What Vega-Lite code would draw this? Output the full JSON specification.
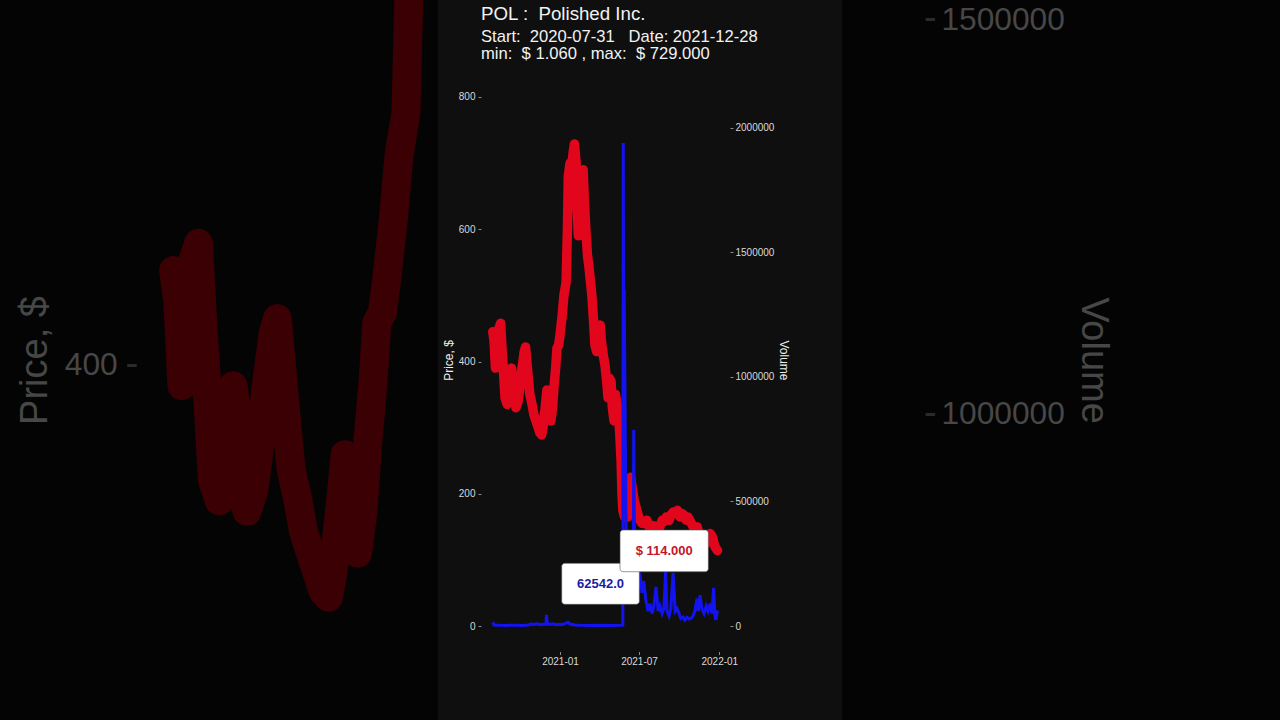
{
  "$schema": "https://vega.github.io/schema/vega-lite/v6.json",
  "background": "#040404",
  "padding": 0,
  "spacing": 0,
  "bounds": "flush",
  "config": {"view": {"stroke": null}, "font": "Liberation Sans"},
  "datasets": {
    "price": [
      {"date": "2020-07-31", "price": 445}, {"date": "2020-08-03", "price": 430}, {"date": "2020-08-06", "price": 390},
      {"date": "2020-08-10", "price": 420}, {"date": "2020-08-14", "price": 450}, {"date": "2020-08-18", "price": 458},
      {"date": "2020-08-21", "price": 420}, {"date": "2020-08-25", "price": 380}, {"date": "2020-08-28", "price": 345},
      {"date": "2020-09-02", "price": 335}, {"date": "2020-09-05", "price": 350}, {"date": "2020-09-08", "price": 370},
      {"date": "2020-09-12", "price": 390}, {"date": "2020-09-15", "price": 375}, {"date": "2020-09-19", "price": 345},
      {"date": "2020-09-22", "price": 330}, {"date": "2020-09-27", "price": 340}, {"date": "2020-10-01", "price": 360},
      {"date": "2020-10-06", "price": 390}, {"date": "2020-10-11", "price": 415}, {"date": "2020-10-14", "price": 422},
      {"date": "2020-10-17", "price": 400}, {"date": "2020-10-21", "price": 370}, {"date": "2020-10-24", "price": 350},
      {"date": "2020-10-29", "price": 335}, {"date": "2020-11-02", "price": 320}, {"date": "2020-11-07", "price": 310},
      {"date": "2020-11-12", "price": 300}, {"date": "2020-11-16", "price": 292}, {"date": "2020-11-20", "price": 289},
      {"date": "2020-11-23", "price": 300}, {"date": "2020-11-28", "price": 330}, {"date": "2020-12-02", "price": 357},
      {"date": "2020-12-05", "price": 345}, {"date": "2020-12-08", "price": 320}, {"date": "2020-12-11", "price": 310},
      {"date": "2020-12-15", "price": 330}, {"date": "2020-12-18", "price": 360}, {"date": "2020-12-22", "price": 390},
      {"date": "2020-12-25", "price": 420}, {"date": "2020-12-29", "price": 425}, {"date": "2021-01-01", "price": 440},
      {"date": "2021-01-06", "price": 470}, {"date": "2021-01-10", "price": 500}, {"date": "2021-01-15", "price": 520},
      {"date": "2021-01-18", "price": 600}, {"date": "2021-01-20", "price": 680}, {"date": "2021-01-24", "price": 700},
      {"date": "2021-01-27", "price": 690}, {"date": "2021-01-31", "price": 715}, {"date": "2021-02-03", "price": 729},
      {"date": "2021-02-07", "price": 700}, {"date": "2021-02-09", "price": 640}, {"date": "2021-02-12", "price": 590},
      {"date": "2021-02-16", "price": 620}, {"date": "2021-02-19", "price": 680}, {"date": "2021-02-23", "price": 690},
      {"date": "2021-02-26", "price": 640}, {"date": "2021-03-02", "price": 590}, {"date": "2021-03-05", "price": 560},
      {"date": "2021-03-08", "price": 545}, {"date": "2021-03-12", "price": 520}, {"date": "2021-03-15", "price": 500},
      {"date": "2021-03-19", "price": 460}, {"date": "2021-03-22", "price": 425}, {"date": "2021-03-26", "price": 415},
      {"date": "2021-03-29", "price": 440}, {"date": "2021-04-03", "price": 455}, {"date": "2021-04-06", "price": 430},
      {"date": "2021-04-10", "price": 410}, {"date": "2021-04-14", "price": 395}, {"date": "2021-04-18", "price": 370},
      {"date": "2021-04-21", "price": 345}, {"date": "2021-04-24", "price": 375}, {"date": "2021-04-28", "price": 370},
      {"date": "2021-05-01", "price": 330}, {"date": "2021-05-05", "price": 310}, {"date": "2021-05-08", "price": 350},
      {"date": "2021-05-12", "price": 335}, {"date": "2021-05-15", "price": 320}, {"date": "2021-05-18", "price": 290},
      {"date": "2021-05-21", "price": 250}, {"date": "2021-05-23", "price": 200}, {"date": "2021-05-25", "price": 175},
      {"date": "2021-05-29", "price": 165}, {"date": "2021-06-01", "price": 175}, {"date": "2021-06-05", "price": 165},
      {"date": "2021-06-08", "price": 195}, {"date": "2021-06-12", "price": 225}, {"date": "2021-06-15", "price": 210},
      {"date": "2021-06-20", "price": 190}, {"date": "2021-06-24", "price": 180}, {"date": "2021-06-29", "price": 168},
      {"date": "2021-07-03", "price": 160}, {"date": "2021-07-08", "price": 155}, {"date": "2021-07-14", "price": 155},
      {"date": "2021-07-19", "price": 160}, {"date": "2021-07-24", "price": 150}, {"date": "2021-07-29", "price": 150},
      {"date": "2021-08-02", "price": 152}, {"date": "2021-08-08", "price": 150}, {"date": "2021-08-14", "price": 148},
      {"date": "2021-08-18", "price": 150}, {"date": "2021-08-23", "price": 160}, {"date": "2021-08-27", "price": 158},
      {"date": "2021-09-02", "price": 165}, {"date": "2021-09-08", "price": 160}, {"date": "2021-09-12", "price": 168},
      {"date": "2021-09-17", "price": 172}, {"date": "2021-09-22", "price": 170}, {"date": "2021-09-27", "price": 175},
      {"date": "2021-10-03", "price": 165}, {"date": "2021-10-08", "price": 170}, {"date": "2021-10-12", "price": 168},
      {"date": "2021-10-17", "price": 160}, {"date": "2021-10-21", "price": 165}, {"date": "2021-10-27", "price": 158},
      {"date": "2021-11-02", "price": 150}, {"date": "2021-11-06", "price": 145}, {"date": "2021-11-11", "price": 150},
      {"date": "2021-11-16", "price": 140}, {"date": "2021-11-21", "price": 135}, {"date": "2021-11-27", "price": 130},
      {"date": "2021-12-02", "price": 125}, {"date": "2021-12-06", "price": 130}, {"date": "2021-12-11", "price": 140},
      {"date": "2021-12-16", "price": 135}, {"date": "2021-12-22", "price": 120}, {"date": "2021-12-28", "price": 114}
    ],
    "volume": [
      {"date": "2020-07-31", "volume": 15000}, {"date": "2020-08-03", "volume": 4000}, {"date": "2020-08-17", "volume": 3000},
      {"date": "2020-09-02", "volume": 2500}, {"date": "2020-09-20", "volume": 3000}, {"date": "2020-10-06", "volume": 2500},
      {"date": "2020-10-20", "volume": 4000}, {"date": "2020-10-27", "volume": 8000}, {"date": "2020-11-02", "volume": 6000},
      {"date": "2020-11-09", "volume": 9000}, {"date": "2020-11-16", "volume": 5000}, {"date": "2020-11-23", "volume": 7000},
      {"date": "2020-11-30", "volume": 8000}, {"date": "2020-12-01", "volume": 45000}, {"date": "2020-12-03", "volume": 8000},
      {"date": "2020-12-09", "volume": 6000}, {"date": "2020-12-16", "volume": 9000}, {"date": "2020-12-23", "volume": 5000},
      {"date": "2021-01-01", "volume": 7000}, {"date": "2021-01-08", "volume": 6000}, {"date": "2021-01-15", "volume": 12000},
      {"date": "2021-01-19", "volume": 15000}, {"date": "2021-01-24", "volume": 8000}, {"date": "2021-02-04", "volume": 4000},
      {"date": "2021-02-16", "volume": 3000}, {"date": "2021-03-11", "volume": 2500}, {"date": "2021-04-03", "volume": 3000},
      {"date": "2021-04-26", "volume": 2500}, {"date": "2021-05-18", "volume": 3000}, {"date": "2021-05-25", "volume": 4000},
      {"date": "2021-05-26", "volume": 1940000}, {"date": "2021-05-27", "volume": 900000}, {"date": "2021-05-28", "volume": 1350000},
      {"date": "2021-06-01", "volume": 470000}, {"date": "2021-06-03", "volume": 250000}, {"date": "2021-06-05", "volume": 180000},
      {"date": "2021-06-08", "volume": 330000}, {"date": "2021-06-11", "volume": 150000}, {"date": "2021-06-15", "volume": 120000},
      {"date": "2021-06-18", "volume": 100000}, {"date": "2021-06-19", "volume": 787000}, {"date": "2021-06-21", "volume": 250000},
      {"date": "2021-06-24", "volume": 180000}, {"date": "2021-06-29", "volume": 150000}, {"date": "2021-07-03", "volume": 213000},
      {"date": "2021-07-08", "volume": 133000}, {"date": "2021-07-12", "volume": 180000}, {"date": "2021-07-17", "volume": 100000},
      {"date": "2021-07-22", "volume": 60000}, {"date": "2021-07-26", "volume": 90000}, {"date": "2021-07-31", "volume": 50000},
      {"date": "2021-08-04", "volume": 80000}, {"date": "2021-08-09", "volume": 157000}, {"date": "2021-08-14", "volume": 60000},
      {"date": "2021-08-18", "volume": 80000}, {"date": "2021-08-23", "volume": 50000}, {"date": "2021-08-27", "volume": 70000},
      {"date": "2021-08-31", "volume": 220000}, {"date": "2021-09-03", "volume": 60000}, {"date": "2021-09-08", "volume": 40000},
      {"date": "2021-09-12", "volume": 70000}, {"date": "2021-09-17", "volume": 213000}, {"date": "2021-09-22", "volume": 60000},
      {"date": "2021-09-26", "volume": 70000}, {"date": "2021-10-01", "volume": 50000}, {"date": "2021-10-05", "volume": 30000},
      {"date": "2021-10-10", "volume": 36000}, {"date": "2021-10-14", "volume": 24000}, {"date": "2021-10-19", "volume": 35000},
      {"date": "2021-10-24", "volume": 28000}, {"date": "2021-10-28", "volume": 30000}, {"date": "2021-11-02", "volume": 40000},
      {"date": "2021-11-06", "volume": 60000}, {"date": "2021-11-11", "volume": 110000}, {"date": "2021-11-14", "volume": 60000},
      {"date": "2021-11-18", "volume": 124000}, {"date": "2021-11-22", "volume": 70000}, {"date": "2021-11-27", "volume": 50000},
      {"date": "2021-12-02", "volume": 80000}, {"date": "2021-12-06", "volume": 60000}, {"date": "2021-12-11", "volume": 90000},
      {"date": "2021-12-15", "volume": 50000}, {"date": "2021-12-19", "volume": 153000}, {"date": "2021-12-22", "volume": 40000},
      {"date": "2021-12-24", "volume": 24000}, {"date": "2021-12-28", "volume": 62542}
    ],
    "vlab": [{"date": "2021-12-28", "value": 62542, "label": "62542.0"}],
    "plab": [{"date": "2021-12-28", "value": 114, "label": "$ 114.000"}]
  },
  "hconcat": [
    {
      "width": 438,
      "height": 720,
      "view": {"fill": "#040404", "stroke": null},
      "data": {"name": "price"},
      "mark": {"type": "line", "color": "#3a0003", "strokeWidth": 29, "strokeCap": "round", "strokeJoin": "round", "clip": true},
      "encoding": {
        "x": {"field": "date", "type": "temporal",
          "scale": {"type": "utc", "domain": [{"year": 2020, "month": 3, "date": 27, "hours": 10, "utc": true}, {"year": 2021, "month": 2, "date": 7, "hours": 5, "utc": true}]},
          "axis": null},
        "y": {"field": "price", "type": "quantitative",
          "scale": {"domain": [230.4, 574.1], "nice": false, "zero": false},
          "axis": {"orient": "left", "offset": -136.2, "values": [400], "format": "d", "domain": false, "grid": false,
            "tickSize": 9.5, "tickColor": "#2a2a2a", "tickWidth": 3, "labelPadding": 9.5, "labelFontSize": 31.7,
            "labelColor": "#474747", "labelFont": "Liberation Sans",
            "title": "Price, $", "titleFontSize": 38, "titleFontWeight": "normal", "titleColor": "#474747",
            "titleFont": "Liberation Sans", "titlePadding": 9.5}}
      }
    },
    {
      "width": 404,
      "height": 720,
      "view": {"fill": "#0f0f0f", "stroke": null},
      "title": {
        "text": "POL :\u00a0\u00a0Polished Inc.",
        "subtitle": ["Start:\u00a0\u00a02020-07-31\u00a0\u00a0\u00a0Date: 2021-12-28", "min:\u00a0\u00a0$ 1.060 , max:\u00a0\u00a0$ 729.000"],
        "orient": "top", "anchor": "start", "frame": "group", "dx": 43, "offset": -62.8,
        "font": "Liberation Sans", "fontSize": 18.7, "fontWeight": "normal", "color": "#f2f2f2",
        "subtitleFont": "Liberation Sans", "subtitleFontSize": 16.6, "subtitleColor": "#f2f2f2",
        "subtitlePadding": 4.7, "subtitleLineHeight": 17.6
      },
      "encoding": {
        "x": {"field": "date", "type": "temporal",
          "scale": {"type": "utc", "domain": [{"year": 2020, "month": 3, "date": 27, "hours": 10, "utc": true}, {"year": 2022, "month": 10, "date": 9, "hours": 5, "utc": true}]},
          "axis": {"orient": "bottom", "offset": -68.5, "title": null, "domain": false, "grid": false,
            "values": [{"year": 2021, "month": 1, "date": 1, "utc": true}, {"year": 2021, "month": 7, "date": 1, "utc": true}, {"year": 2022, "month": 1, "date": 1, "utc": true}],
            "format": "%Y-%m", "tickSize": 3, "tickColor": "#8a8a8a", "labelPadding": 2, "labelFontSize": 10,
            "labelColor": "#d9d9d9", "labelFont": "Liberation Sans", "labelFlush": false}}
      },
      "layer": [
        {
          "data": {"name": "price"},
          "mark": {"type": "line", "color": "#e1061b", "strokeWidth": 9.5, "strokeCap": "round", "strokeJoin": "round"},
          "encoding": {
            "y": {"field": "price", "type": "quantitative",
              "scale": {"domain": [-142.15, 946.69], "nice": false, "zero": false},
              "axis": {"orient": "left", "offset": -43, "values": [0, 200, 400, 600, 800], "format": "d", "domain": false, "grid": false,
                "tickSize": 3, "tickColor": "#8a8a8a", "labelPadding": 3, "labelFontSize": 10, "labelColor": "#d9d9d9",
                "labelFont": "Liberation Sans", "title": "Price, $", "titleFontSize": 12, "titleFontWeight": "normal",
                "titleColor": "#eeeeee", "titleFont": "Liberation Sans", "titlePadding": 3}}
          }
        },
        {
          "data": {"name": "volume"},
          "mark": {"type": "line", "color": "#1313f2", "strokeWidth": 3},
          "encoding": {
            "y": {"field": "volume", "type": "quantitative",
              "scale": {"domain": [-377510, 2514056], "nice": false, "zero": false},
              "axis": {"orient": "right", "offset": -112, "values": [0, 500000, 1000000, 1500000, 2000000], "format": "d", "domain": false, "grid": false,
                "tickSize": 3, "tickColor": "#8a8a8a", "labelPadding": 2, "labelFontSize": 10, "labelColor": "#d9d9d9",
                "labelFont": "Liberation Sans", "title": "Volume", "titleFontSize": 12, "titleFontWeight": "normal",
                "titleColor": "#eeeeee", "titleFont": "Liberation Sans", "titlePadding": 3}}
          }
        },
        {
          "data": {"name": "vlab"},
          "mark": {"type": "rect", "fill": "#ffffff", "stroke": "#555555", "strokeWidth": 0.6, "cornerRadius": 3,
            "xOffset": -155.8, "x2Offset": -78.2, "yOffset": -47.1, "y2Offset": -6.1},
          "encoding": {
            "x2": {"field": "date"},
            "y": {"field": "value", "type": "quantitative", "scale": {"domain": [-377510, 2514056], "nice": false, "zero": false}, "axis": null},
            "y2": {"field": "value"}
          }
        },
        {
          "data": {"name": "vlab"},
          "mark": {"type": "text", "font": "Liberation Sans", "fontSize": 13, "fontWeight": "bold", "color": "#1c1ca3",
            "align": "center", "baseline": "middle", "dx": -117, "dy": -26.6},
          "encoding": {
            "y": {"field": "value", "type": "quantitative", "scale": {"domain": [-377510, 2514056], "nice": false, "zero": false}, "axis": null},
            "text": {"field": "label"}
          }
        },
        {
          "data": {"name": "plab"},
          "mark": {"type": "rect", "fill": "#ffffff", "stroke": "#555555", "strokeWidth": 0.6, "cornerRadius": 3,
            "xOffset": -97.5, "x2Offset": -9.2, "yOffset": -20.6, "y2Offset": 21.1},
          "encoding": {
            "x2": {"field": "date"},
            "y": {"field": "value", "type": "quantitative", "scale": {"domain": [-142.15, 946.69], "nice": false, "zero": false}, "axis": null},
            "y2": {"field": "value"}
          }
        },
        {
          "data": {"name": "plab"},
          "mark": {"type": "text", "font": "Liberation Sans", "fontSize": 13, "fontWeight": "bold", "color": "#c4162a",
            "align": "center", "baseline": "middle", "dx": -53.3, "dy": 0.2},
          "encoding": {
            "y": {"field": "value", "type": "quantitative", "scale": {"domain": [-142.15, 946.69], "nice": false, "zero": false}, "axis": null},
            "text": {"field": "label"}
          }
        }
      ],
      "resolve": {"scale": {"y": "independent"}, "axis": {"y": "independent"}}
    },
    {
      "width": 438,
      "height": 720,
      "view": {"fill": "#040404", "stroke": null},
      "data": {"name": "volume"},
      "mark": {"type": "line", "color": "#05052e", "strokeWidth": 9.5, "clip": true},
      "encoding": {
        "x": {"field": "date", "type": "temporal",
          "scale": {"type": "utc", "domain": [{"year": 2021, "month": 11, "date": 26, "hours": 10, "utc": true}, {"year": 2022, "month": 10, "date": 9, "hours": 5, "utc": true}]},
          "axis": null},
        "y": {"field": "volume", "type": "quantitative",
          "scale": {"domain": [611928, 1524618], "nice": false, "zero": false},
          "axis": {"orient": "right", "offset": -354.9, "values": [1000000, 1500000], "format": "d", "domain": false, "grid": false,
            "tickSize": 9.5, "tickColor": "#2a2a2a", "tickWidth": 3, "labelPadding": 6.3, "labelFontSize": 31.7,
            "labelColor": "#474747", "labelFont": "Liberation Sans",
            "title": "Volume", "titleFontSize": 38, "titleFontWeight": "normal", "titleColor": "#474747",
            "titleFont": "Liberation Sans", "titlePadding": 9.5}}
      }
    }
  ]
}
